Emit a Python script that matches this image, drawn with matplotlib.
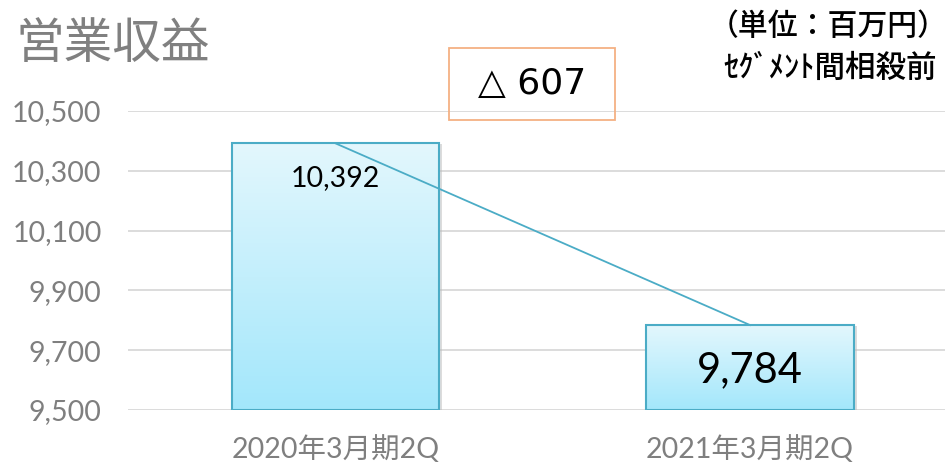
import numpy as np
import matplotlib.pyplot as plt
from matplotlib.patches import Rectangle
from matplotlib.colors import LinearSegmentedColormap

# data
categories = ['2020年3月期2Q', '2021年3月期2Q']
values = [10392, 9784]
value_labels = ['10,392', '9,784']
yticks = [9500, 9700, 9900, 10100, 10300, 10500]
ytick_labels = ['9,500', '9,700', '9,900', '10,100', '10,300', '10,500']
diff_label = '△ 607'

jp = ['Noto Sans CJK JP', 'DejaVu Sans']
num = ['Lato', 'Noto Sans CJK JP', 'DejaVu Sans']
plt.rcParams['font.family'] = num

fig = plt.figure(figsize=(9.47, 4.66), dpi=100)
ax = fig.add_axes([128 / 947, 56 / 466, 817 / 947, 299 / 466])

x = np.arange(len(categories))
width = 0.5
bars = ax.bar(x, np.array(values) - yticks[0], width, bottom=yticks[0],
              color='none', edgecolor='#4bacc6', linewidth=1.5, zorder=3)

# gradient fill inside each bar
grad = np.linspace(0, 1, 256).reshape(-1, 1)
cmap = LinearSegmentedColormap.from_list('bar', ['#a3e7fb', '#e3f7fd'])
for b in bars:
    x0, y0 = b.get_x(), b.get_y()
    w, h = b.get_width(), b.get_height()
    # soft shadow
    ax.add_patch(Rectangle((x0 + 0.008, y0), w, h - 4, facecolor='#bbbbbb',
                           edgecolor='none', alpha=0.5, zorder=1))
    im = ax.imshow(grad, extent=[x0, x0 + w, y0, y0 + h], origin='lower',
                   cmap=cmap, aspect='auto', zorder=2)
    im.set_clip_path(b)

ax.set_xlim(-0.5, 1.47)
ax.set_ylim(yticks[0], yticks[-1])

# connecting line between bar tops
ax.plot(x, values, color='#4bacc6', linewidth=1.3, zorder=4)

ax.text(x[0], values[0] - 115, value_labels[0], ha='center', va='center',
        fontsize=20.5, color='black', zorder=5)
ax.text(x[1], values[1] - 150, value_labels[1], ha='center', va='center',
        fontsize=30, color='black', zorder=5)

ax.set_yticks(yticks)
ax.set_yticklabels(ytick_labels, fontsize=20.5, color='#7f7f7f')
ax.set_xticks(x)
ax.set_xticklabels(categories, fontsize=20.5, color='#7f7f7f')
ax.tick_params(axis='both', length=0)
ax.tick_params(axis='y', pad=19)
ax.tick_params(axis='x', pad=18)
ax.grid(axis='y', color='#d9d9d9', linewidth=1.3, zorder=0)
ax.set_axisbelow(True)
for s in ax.spines.values():
    s.set_visible(False)

fig.text(113 / 947, 1 - 44 / 466, '営業収益', fontsize=35, color='#808080',
         family=jp, ha='center', va='center')
fig.text(948 / 947, 1 - 27 / 466, '（単位：百万円）', fontsize=21.5,
         color='black', family=jp, ha='right', va='center', weight='medium')
fig.text(937 / 947, 1 - 68 / 466, 'ｾｸﾞﾒﾝﾄ間相殺前', fontsize=22,
         color='black', family=jp, ha='right', va='center', weight='medium')

fig.patches.append(Rectangle((449 / 947, 1 - 120 / 466), 166 / 947, 72 / 466,
                             transform=fig.transFigure, facecolor='none',
                             edgecolor='#f4b183', linewidth=1.3))
fig.text(532 / 947, 1 - 84 / 466, diff_label, fontsize=26, color='black',
         family=['DejaVu Sans'], ha='center', va='center')

fig.savefig('out.png', dpi=100)
